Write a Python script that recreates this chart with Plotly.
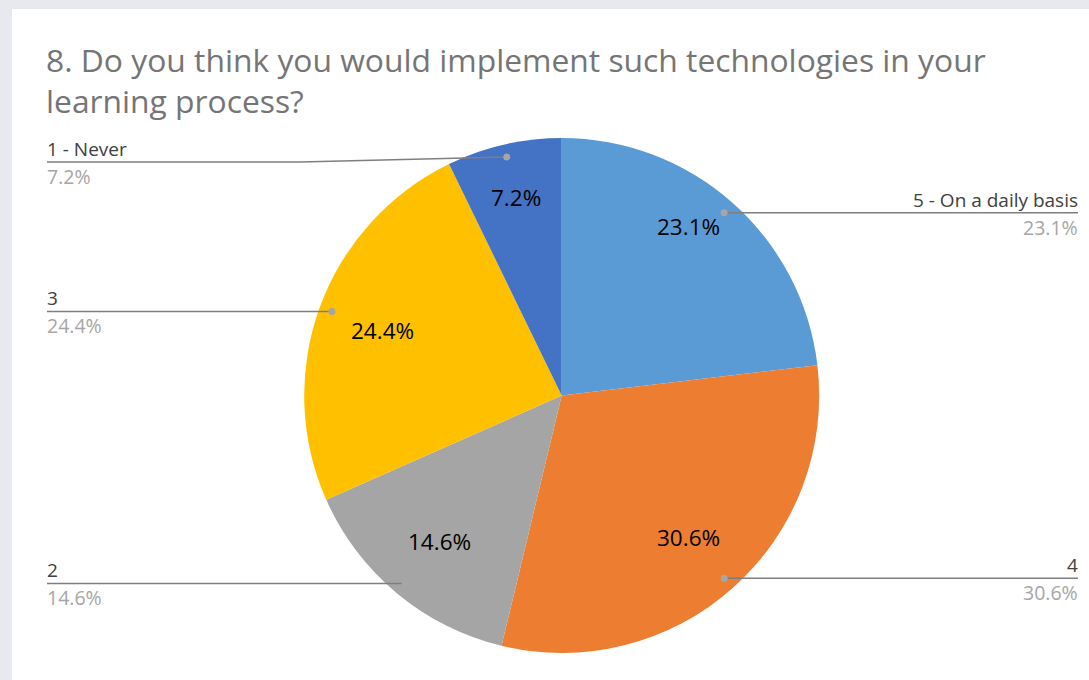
import math
import plotly.graph_objects as go

# Survey answers, listed clockwise from 12 o'clock
categories = ["5 - On a daily basis", "4", "2", "3", "1 - Never"]
shares = [23.1, 30.6, 14.6, 24.4, 7.2]
colors = ["#5B9BD5", "#ED7D31", "#A5A5A5", "#FFC000", "#4472C4"]
title_lines = [
    "8. Do you think you would implement such technologies in your",
    "learning process?",
]

W, H = 1089, 680
CX, CY, R = 561.7, 395.5, 257.5          # pie centre / radius in pixels
DOT_R = 0.95 * R                          # where leader lines start
INSIDE_R = [0.82, 0.74, 0.74, 0.74, 0.79]  # radial position of inside labels
INSIDE_NUDGE = [-4.7, 0, 0, 0, 0]         # angular nudge of inside labels (deg)
LEFT_X, RIGHT_X = 47, 1078                # leader line ends
TEXT_PAD = 2                              # glyph side-bearing compensation
MIN_LABEL_Y = 162                         # label rows stay below the title
ELBOW_X = 300
FONT = "Open Sans"

total = sum(shares)


def mid_angle(i):
    """Clockwise angle from 12 o'clock (radians) at the middle of slice i."""
    start = sum(shares[:i])
    return 2 * math.pi * (start + shares[i] / 2) / total


def polar(angle, r):
    return CX + r * math.sin(angle), CY - r * math.cos(angle)


fig = go.Figure()

fig.add_trace(go.Pie(
    labels=categories,
    values=shares,
    sort=False,
    direction="clockwise",
    rotation=0,
    marker=dict(colors=colors, line=dict(width=0)),
    textinfo="none",
    hoverinfo="label+value",
    showlegend=False,
    domain=dict(
        x=[(CX - R) / W, (CX + R) / W],
        y=[(H - CY - R) / H, (H - CY + R) / H],
    ),
))

shapes = [
    # light grey frame with white card
    dict(type="rect", xref="paper", yref="paper", x0=0, x1=1, y0=0, y1=1,
         fillcolor="#E8E9EE", line_width=0, layer="below"),
    dict(type="rect", xref="x", yref="y", x0=12, x1=W + 5, y0=9, y1=H + 5,
         fillcolor="white", line_width=0, layer="below"),
]
annotations = []

for i, (cat, val) in enumerate(zip(categories, shares)):
    a = mid_angle(i)
    dx, dy = polar(a, DOT_R)
    right = math.sin(a) > 0
    ly = max(dy, MIN_LABEL_Y)
    end_x = RIGHT_X if right else LEFT_X

    # leader line (with an elbow when the row had to move down)
    if abs(ly - dy) > 0.5:
        path = f"M{dx},{dy} L{ELBOW_X},{ly} L{end_x},{ly}"
    else:
        path = f"M{dx},{dy} L{end_x},{ly}"
    shapes.append(dict(type="path", xref="x", yref="y", path=path,
                       line=dict(color="#7F7F7F", width=1.5), layer="above"))
    shapes.append(dict(type="circle", xref="x", yref="y",
                       x0=dx - 3.5, x1=dx + 3.5, y0=dy - 3.5, y1=dy + 3.5,
                       fillcolor="#A6A6A6", line_width=0, layer="above"))

    anchor = "right" if right else "left"
    text_x = end_x + (TEXT_PAD if right else -TEXT_PAD)
    annotations.append(dict(
        x=text_x, y=ly + 2, xref="x", yref="y", text=cat, showarrow=False,
        xanchor=anchor, yanchor="bottom",
        font=dict(family=FONT, size=19, color="#404040"),
    ))
    annotations.append(dict(
        x=text_x, y=ly - 1, xref="x", yref="y", text=f"{val:.1f}%",
        showarrow=False, xanchor=anchor, yanchor="top",
        font=dict(family=FONT, size=19.5, color="#A6A6A6"),
    ))

    # value label inside the slice
    tx, ty = polar(a + math.radians(INSIDE_NUDGE[i]), INSIDE_R[i] * R)
    annotations.append(dict(
        x=tx, y=ty, xref="x", yref="y", text=f"{val:.1f}%", showarrow=False,
        xanchor="center", yanchor="middle",
        font=dict(family=FONT, size=22.5, color="#000000"),
    ))

# two-line title
annotations.append(dict(
    x=LEFT_X - 3, y=80, xref="x", yref="y", text="<br>".join(title_lines),
    showarrow=False, xanchor="left", yanchor="middle", align="left",
    font=dict(family=FONT, size=31.8, color="#757575"),
))

fig.update_layout(
    width=W, height=H,
    margin=dict(l=0, r=0, t=0, b=0),
    paper_bgcolor="#E8E9EE",
    plot_bgcolor="rgba(0,0,0,0)",
    xaxis=dict(range=[0, W], visible=False, fixedrange=True, domain=[0, 1]),
    yaxis=dict(range=[H, 0], visible=False, fixedrange=True, domain=[0, 1]),
    shapes=shapes,
    annotations=annotations,
    showlegend=False,
)

fig.write_html("out.html")
